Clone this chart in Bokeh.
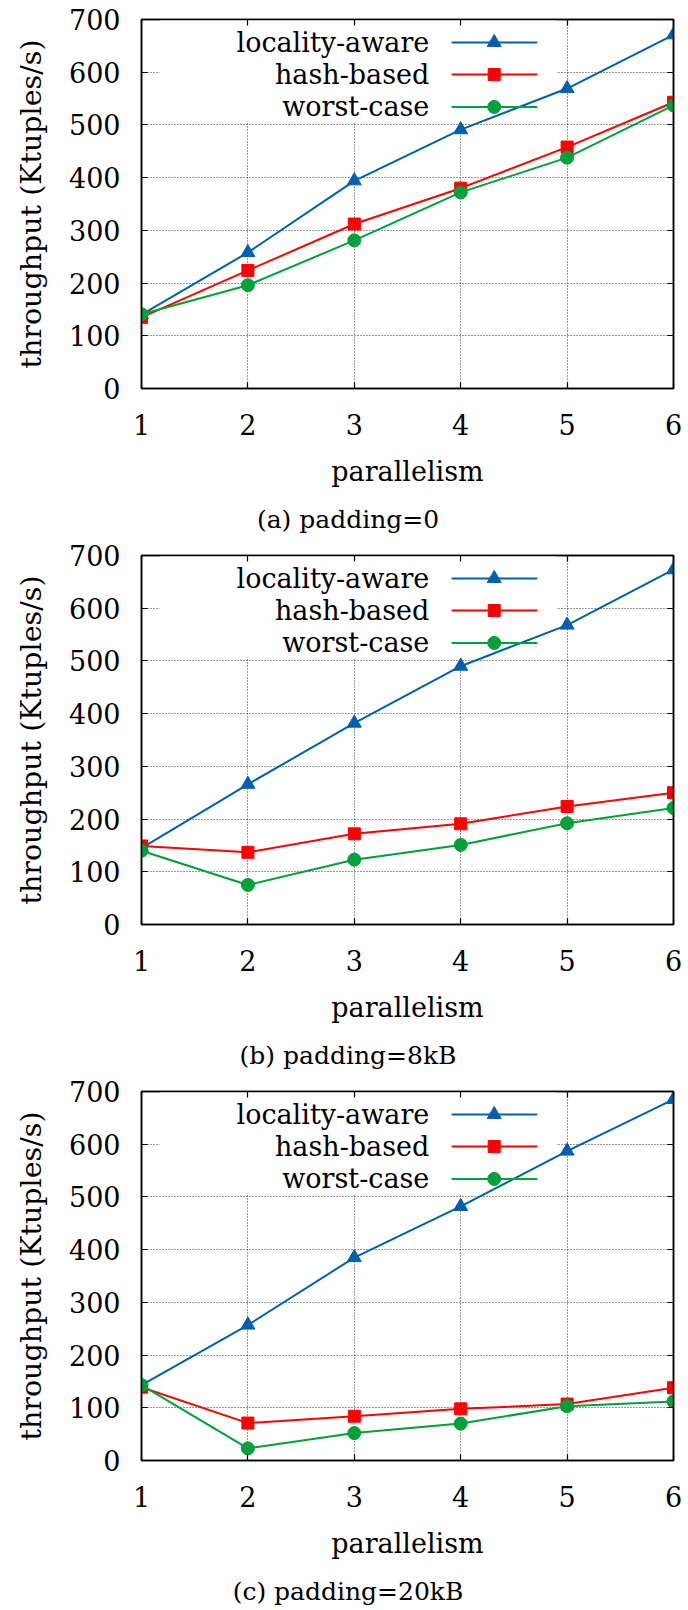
from bokeh.plotting import figure
from bokeh.layouts import column
from bokeh.models import Range1d, FixedTicker, LinearAxis, BoxAnnotation, Div
from bokeh.core.properties import value
from bokeh.embed import file_html
from bokeh.resources import INLINE

# ---------------- data ----------------
parallelism = [1, 2, 3, 4, 5, 6]
x_ticks = [1, 2, 3, 4, 5, 6]
y_ticks = [0, 100, 200, 300, 400, 500, 600, 700]
series_names = ["locality-aware", "hash-based", "worst-case"]
captions = ["(a) padding=0", "(b) padding=8kB", "(c) padding=20kB"]

locality_aware_0 = [140, 258, 394, 491, 569, 671]
hash_based_0 = [135, 224, 312, 380, 458, 543]
worst_case_0 = [141, 196, 281, 372, 438, 537]

locality_aware_8k = [145, 266, 382, 490, 568, 673]
hash_based_8k = [149, 137, 172, 191, 224, 250]
worst_case_8k = [140, 75, 123, 151, 192, 221]

locality_aware_20k = [143, 257, 385, 482, 587, 685]
hash_based_20k = [139, 71, 84, 98, 107, 138]
worst_case_20k = [143, 23, 52, 70, 103, 112]

# ---------------- style ----------------
FONT = "DejaVu Serif"
COLORS = ["#0060ad", "#ff0000", "#00a03a"]
MARKERS = ["triangle", "square", "circle"]
SIZES = [14, 12, 13]
FIG_H = 506
CAPTION_HEIGHTS = [30, 30, 32]
FRAME_H = 369
TOP = 19


def style_axis(ax, show_labels=True):
    ax.axis_line_color = "black"
    ax.axis_line_width = 1.5
    ax.major_tick_line_color = "black"
    ax.major_tick_line_width = 1.2
    ax.major_tick_in = 6
    ax.major_tick_out = 0
    ax.minor_tick_in = 0
    ax.minor_tick_out = 0
    ax.major_label_text_font = FONT
    ax.major_label_text_color = "black"
    ax.axis_label_text_font = FONT
    ax.axis_label_text_font_style = "normal"
    ax.axis_label_text_font_size = "27px"
    ax.axis_label_text_color = "black"
    if show_labels:
        ax.major_label_text_font_size = "27px"
    else:
        ax.major_label_text_font_size = "0px"
        ax.major_label_standoff = 0


def make_panel(series):
    x0, x1 = min(parallelism), max(parallelism)
    y0, y1 = min(y_ticks), max(y_ticks)
    p = figure(width=688, height=FIG_H, output_backend="svg", toolbar_location=None,
               x_range=Range1d(x0, x1), y_range=Range1d(y0, y1),
               min_border_left=141, min_border_right=15, min_border_top=TOP,
               min_border_bottom=FIG_H - TOP - FRAME_H,
               x_axis_label="parallelism", y_axis_label="throughput (Ktuples/s)")
    p.background_fill_color = "white"
    p.border_fill_color = "white"
    p.outline_line_color = "black"
    p.outline_line_width = 1.5

    p.xaxis.ticker = FixedTicker(ticks=x_ticks)
    p.yaxis.ticker = FixedTicker(ticks=y_ticks)
    for ax in p.xaxis:
        style_axis(ax)
        ax.major_label_standoff = 25
        ax.axis_label_standoff = 18
    for ax in p.yaxis:
        style_axis(ax)
        ax.major_label_standoff = 21
        ax.axis_label_standoff = 18
        ax.axis_label_text_font_size = "28.5px"

    top_ax = LinearAxis(ticker=FixedTicker(ticks=x_ticks))
    right_ax = LinearAxis(ticker=FixedTicker(ticks=y_ticks))
    style_axis(top_ax, False)
    style_axis(right_ax, False)
    top_ax.major_label_overrides = {t: "" for t in x_ticks}
    right_ax.major_label_overrides = {t: "" for t in y_ticks}
    p.add_layout(top_ax, "above")
    p.add_layout(right_ax, "right")

    p.xgrid.ticker = FixedTicker(ticks=x_ticks)
    p.ygrid.ticker = FixedTicker(ticks=y_ticks)
    p.grid.grid_line_color = "#333333"
    p.grid.grid_line_width = 1
    p.grid.grid_line_dash = "1 2"

    xs = x1 - x0
    ys = y1 - y0
    # opaque key box hiding the grid
    box = BoxAnnotation(left=x0 + 0.034 * xs, right=x0 + 0.78 * xs,
                        bottom=y1 - 0.28 * ys, top=y1,
                        fill_color="white", fill_alpha=1.0, line_color=None,
                        level="underlay")
    p.add_layout(box)

    for vals, c, m, s in zip(series, COLORS, MARKERS, SIZES):
        p.line(parallelism, vals, line_color=c, line_width=2)
        p.scatter(parallelism, vals, marker=m, size=s, fill_color=c, line_color=c)

    # key (gnuplot style: text then sample)
    row_frac = [0.0624, 0.149, 0.237]
    key_y = [y1 - f * ys for f in row_frac]
    p.text(x=[x0 + 0.541 * xs] * 3, y=key_y, text=series_names,
           text_align="right", text_baseline="middle",
           text_font=value(FONT), text_font_size="27px", text_color="black")
    for yy, c, m, s in zip(key_y, COLORS, MARKERS, SIZES):
        p.segment(x0=[x0 + 0.583 * xs], y0=[yy], x1=[x0 + 0.744 * xs], y1=[yy],
                  line_color=c, line_width=2)
        p.scatter(x=[x0 + 0.663 * xs], y=[yy], marker=m, size=s,
                  fill_color=c, line_color=c)
    return p


def make_caption(text, h):
    return Div(text=text, width=688, height=h, margin=0,
               styles={"font-family": FONT, "font-size": "25px",
                       "line-height": "28px", "text-align": "center",
                       "color": "black", "padding-left": "8px",
                       "box-sizing": "border-box", "width": "688px"})


all_series = [
    [locality_aware_0, hash_based_0, worst_case_0],
    [locality_aware_8k, hash_based_8k, worst_case_8k],
    [locality_aware_20k, hash_based_20k, worst_case_20k],
]

items = []
for s, c, h in zip(all_series, captions, CAPTION_HEIGHTS):
    items.append(make_panel(s))
    items.append(make_caption(c, h))

layout = column(*items, spacing=0)

open("out.html", "w").write(file_html(layout, INLINE))
